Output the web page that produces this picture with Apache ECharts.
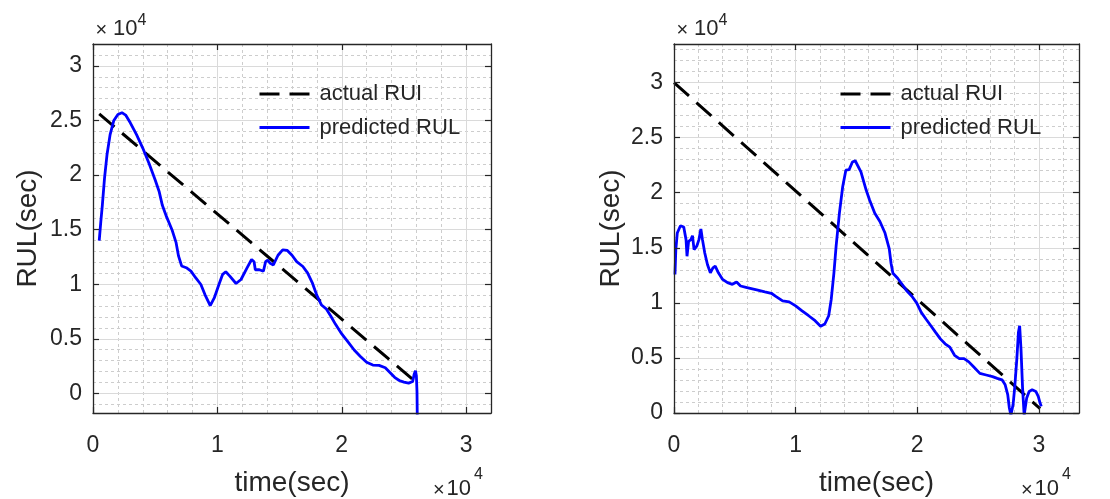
<!DOCTYPE html>
<html>
<head>
<meta charset="utf-8">
<script src="https://cdn.jsdelivr.net/npm/echarts@6/dist/echarts.min.js"></script>
<style>
html,body{margin:0;padding:0;background:#fff;}
#chart{width:1110px;height:499px;}
</style>
</head>
<body>
<div id="chart"></div>
<script>
// ---------- data ----------
const legendNames = ['actual RUI', 'predicted RUL'];
const xTitle = 'time(sec)';
const yTitle = 'RUL(sec)';

// left panel
const leftActualT = [500, 25900];
const leftActualV = [25600, 1100];
const leftPredT = [500, 625, 750, 925, 1125, 1375, 1675, 2000, 2325, 2625,
  3000, 3500, 4000, 4500, 5000, 5325, 5450, 5575, 5925, 6375,
  6675, 6875, 7125, 7500, 7875, 8250, 8675, 9000, 9425, 9750,
  10125, 10425, 10675, 11000, 11500, 11900, 12375, 12750, 12950, 13050,
  13375, 13700, 13875, 14050, 14250, 14500, 14875, 15250, 15625, 16000,
  16375, 16875, 17250, 17625, 18000, 18375, 18750, 19125, 19500, 20000,
  20500, 21000, 21500, 22000, 22500, 23000, 23500, 23875, 24250, 24625,
  25000, 25375, 25700, 25825, 25925, 26000, 26050, 26080];
const leftPredV = [13980, 15680, 17220, 19690, 21850, 23700, 25000, 25550, 25710, 25490,
  24780, 23700, 22470, 21080, 19540, 18460, 18600, 17220, 16140, 14910,
  13830, 12590, 11670, 11510, 11200, 10590, 9970, 9050, 8030, 8740,
  9970, 10900, 11140, 10740, 10060, 10430, 11470, 12260, 12060, 11320,
  11320, 11180, 12060, 12200, 11910, 11760, 12650, 13150, 13090, 12650,
  12060, 11620, 11030, 10150, 8970, 8090, 7740, 7060, 6320, 5440,
  4710, 3970, 3380, 2850, 2590, 2560, 2350, 1910, 1470, 1180,
  1030, 940, 1090, 1760, 2060, 1620, 150, -3000];

// right panel
const rightActualT = [0, 30100];
const rightActualV = [30000, 400];
const rightPredT = [80, 150, 270, 530, 800, 990, 1070, 1200, 1390, 1520,
  1650, 1870, 2050, 2210, 2340, 2530, 2750, 2990, 3200, 3390,
  3650, 4000, 4400, 4800, 5150, 5470, 6000, 6800, 7470, 8000,
  8400, 8930, 9470, 10000, 10530, 11070, 11600, 12050, 12400, 12720,
  12930, 13150, 13330, 13600, 13870, 14130, 14400, 14670, 14900, 15370,
  15800, 16080, 16510, 16930, 17350, 17700, 17850, 18000, 18390, 18780,
  19170, 19560, 19950, 20340, 20730, 21120, 21510, 21900, 22290, 22680,
  23070, 23460, 23850, 24240, 24630, 25150, 25670, 26190, 26580, 26970,
  27230, 27440, 27570, 27700, 27880, 28010, 28190, 28320, 28420, 28530,
  28660, 28790, 29000, 29200, 29450, 29750, 29950, 30100, 30200];
const rightPredV = [12580, 14830, 16340, 17000, 16880, 15740, 14230, 15590, 15740, 16100,
  14830, 15140, 15740, 16700, 15740, 14530, 13480, 12730, 13180, 13330,
  12730, 12130, 11830, 11680, 11890, 11530, 11380, 11170, 10990, 10870,
  10570, 10180, 10090, 9730, 9280, 8830, 8380, 7870, 8080, 8830,
  10330, 12730, 15140, 18140, 20540, 22040, 22100, 22790, 22900, 21890,
  20240, 19340, 18140, 17390, 16340, 14900, 13570, 12680, 12230, 11640,
  11040, 10600, 10000, 9110, 8510, 7920, 7320, 6730, 6280, 5980,
  5240, 4940, 4940, 4640, 4200, 3600, 3450, 3300, 3150, 3010,
  2560, 1670, 480, -200, 770, 2260, 4940, 7320, 7920, 5830,
  2260, -200, 1370, 1960, 2110, 1960, 1500, 900, 600];

// axis ranges and ticks
const leftXRange = [0, 32000];
const leftYRange = [-1800, 32000];
const rightXRange = [0, 33300];
const rightYRange = [0, 33500];
const xTickValues = [0, 10000, 20000, 30000];
const yTickValues = [0, 5000, 10000, 15000, 20000, 25000, 30000];
const xMinorStep = 2000;
const yMinorStep = 1000;

// ---------- layout / style ----------
const FONT = "'Liberation Sans', Arial, Helvetica, sans-serif";
const INK = '#262626';
const GL = {left: 93, top: 44, width: 398, height: 369};
const GR = {left: 674, top: 44, width: 405, height: 369};

function pairs(t, v) { return t.map((x, i) => [x, v[i]]); }
function fmt(v) { return String(+(v / 10000).toFixed(1)); }
function minorVals(range, step, majors) {
  const out = [];
  const start = Math.ceil(range[0] / step) * step;
  for (let v = start; v < range[1]; v += step) {
    if (v <= range[0]) continue;
    if (majors.indexOf(v) === -1) out.push(v);
  }
  return out;
}

const majorStyle = {color: '#dadada', width: 1, type: 'solid'};
const minorStyle = {color: '#cdcdcd', width: 1, type: [3, 3]};

function gridLines(xr, yr) {
  const xMaj = xTickValues.filter(v => v > xr[0] && v < xr[1]);
  const yMaj = yTickValues.filter(v => v > yr[0] && v < yr[1]);
  const xMin = minorVals(xr, xMinorStep, xTickValues);
  const yMin = minorVals(yr, yMinorStep, yTickValues);
  const d = [];
  xMin.forEach(v => d.push({xAxis: v, lineStyle: minorStyle}));
  yMin.forEach(v => d.push({yAxis: v, lineStyle: minorStyle}));
  xMaj.forEach(v => d.push({xAxis: v, lineStyle: majorStyle}));
  yMaj.forEach(v => d.push({yAxis: v, lineStyle: majorStyle}));
  return {
    silent: true, symbol: ['none', 'none'], label: {show: false},
    animation: false, z: 1, emphasis: {disabled: true}, data: d
  };
}

function xAx(gi, pos, range, withLabels) {
  return {
    type: 'value', gridIndex: gi, position: pos, min: range[0], max: range[1], z: 5,
    axisLine: {show: true, onZero: false, lineStyle: {color: INK, width: 1.3}},
    axisTick: {show: true, inside: true, length: 6, customValues: xTickValues, lineStyle: {color: INK, width: 1.2}},
    axisLabel: withLabels ? {show: true, customValues: xTickValues, formatter: fmt, margin: 21,
      fontSize: 23, color: INK, fontFamily: FONT} : {show: false},
    splitLine: {show: false}, minorTick: {show: false}, minorSplitLine: {show: false},
    name: withLabels ? xTitle : '', nameLocation: 'middle', nameGap: 56,
    nameTextStyle: {fontSize: 28, color: INK, fontFamily: FONT}
  };
}
function yAx(gi, pos, range, withLabels, gap) {
  return {
    type: 'value', gridIndex: gi, position: pos, min: range[0], max: range[1], z: 5,
    axisLine: {show: true, onZero: false, lineStyle: {color: INK, width: 1.3}},
    axisTick: {show: true, inside: true, length: 6, customValues: yTickValues, lineStyle: {color: INK, width: 1.2}},
    axisLabel: withLabels ? {show: true, customValues: yTickValues, formatter: fmt, margin: 11,
      padding: [7, 0, 0, 0], fontSize: 23, color: INK, fontFamily: FONT} : {show: false},
    splitLine: {show: false}, minorTick: {show: false}, minorSplitLine: {show: false},
    name: withLabels ? yTitle : '', nameLocation: 'middle', nameRotate: 90, nameGap: gap,
    nameTextStyle: {fontSize: 28, color: INK, fontFamily: FONT}
  };
}

function txt(s, x, y, fs) {
  return {type: 'text', x: x, y: y, silent: true, z: 10,
    style: {text: s, fontSize: fs, fontFamily: FONT, fill: INK, align: 'left', verticalAlign: 'middle'}};
}
function expTop(g) {
  const l = g.left;
  return [txt('\u00d7', l + 2.5, 30, 20), txt('10', l + 20, 28.5, 22), txt('4', l + 44.5, 20.5, 16)];
}
function expBottom(g) {
  const r = g.left + g.width;
  return [txt('\u00d7', r - 58, 490, 20), txt('10', r - 44.5, 489, 22), txt('4', r - 17, 475, 16)];
}

function legendFor(g) {
  return {
    left: g.left + 160, top: 78, orient: 'vertical', itemWidth: 50, itemHeight: 14, itemGap: 11.5,
    selectedMode: false, data: legendNames,
    itemStyle: {opacity: 0, borderWidth: 0},
    lineStyle: {width: 3},
    textStyle: {fontSize: 22, lineHeight: 22, color: INK, fontFamily: FONT, padding: [0, 0, 0, 5]}
  };
}

const actualStyle = {color: '#000000', width: 3, type: [20, 10]};
const predStyle = {color: '#0000ff', width: 2.8, type: 'solid'};

const option = {
  backgroundColor: '#ffffff',
  animation: false,
  textStyle: {fontFamily: FONT},
  grid: [
    Object.assign({outerBoundsMode: 'none', containLabel: false}, GL),
    Object.assign({outerBoundsMode: 'none', containLabel: false}, GR)
  ],
  legend: [legendFor(GL), legendFor(GR)],
  xAxis: [
    xAx(0, 'bottom', leftXRange, true), xAx(0, 'top', leftXRange, false),
    xAx(1, 'bottom', rightXRange, true), xAx(1, 'top', rightXRange, false)
  ],
  yAxis: [
    yAx(0, 'left', leftYRange, true, 51), yAx(0, 'right', leftYRange, false, 0),
    yAx(1, 'left', rightYRange, true, 49), yAx(1, 'right', rightYRange, false, 0)
  ],
  series: [
    {name: legendNames[0], type: 'line', xAxisIndex: 0, yAxisIndex: 0, data: pairs(leftActualT, leftActualV),
      symbol: 'none', showSymbol: false, lineStyle: actualStyle, itemStyle: {color: '#000'}, z: 3, clip: true,
      markLine: gridLines(leftXRange, leftYRange)},
    {name: legendNames[1], type: 'line', xAxisIndex: 0, yAxisIndex: 0, data: pairs(leftPredT, leftPredV),
      symbol: 'none', showSymbol: false, lineStyle: predStyle, itemStyle: {color: '#0000ff'}, z: 4, clip: true},
    {name: legendNames[0], type: 'line', xAxisIndex: 2, yAxisIndex: 2, data: pairs(rightActualT, rightActualV),
      symbol: 'none', showSymbol: false, lineStyle: actualStyle, itemStyle: {color: '#000'}, z: 3, clip: true,
      markLine: gridLines(rightXRange, rightYRange)},
    {name: legendNames[1], type: 'line', xAxisIndex: 2, yAxisIndex: 2, data: pairs(rightPredT, rightPredV),
      symbol: 'none', showSymbol: false, lineStyle: predStyle, itemStyle: {color: '#0000ff'}, z: 4, clip: true}
  ],
  graphic: {elements: [].concat(expTop(GL), expTop(GR), expBottom(GL), expBottom(GR))}
};

const chart = echarts.init(document.getElementById('chart'), null, {renderer: 'canvas'});
chart.setOption(option);
</script>
</body>
</html>
